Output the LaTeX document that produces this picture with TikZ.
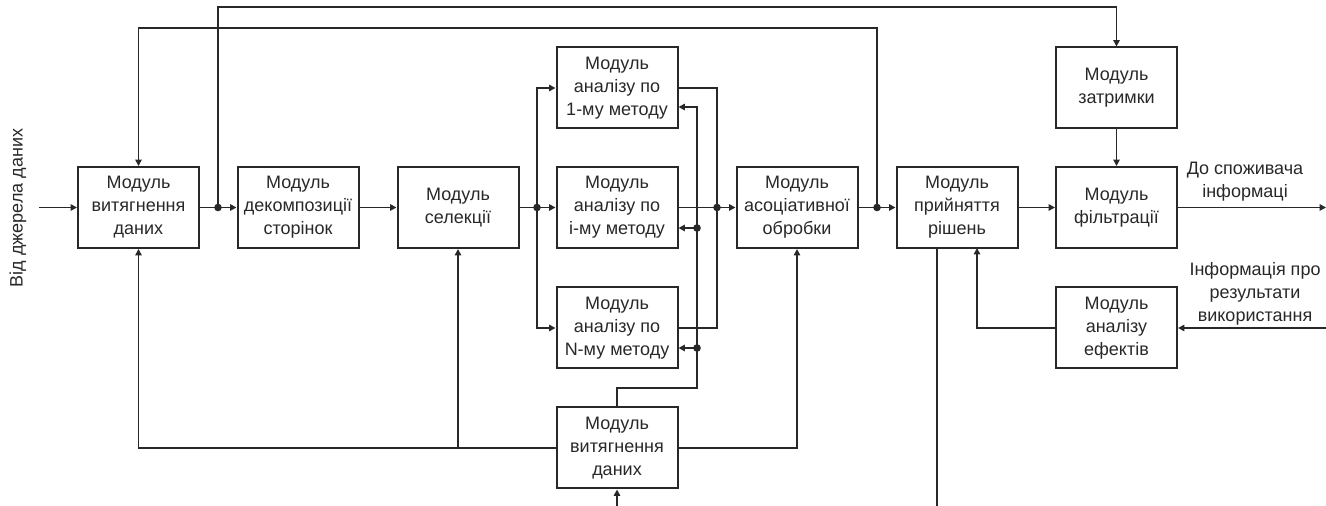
\documentclass[tikz,border=0pt]{standalone}
\usepackage{fontspec}
\setmainfont{Liberation Sans}
\usetikzlibrary{arrows.meta}
\definecolor{ink}{RGB}{40,40,40}
\begin{document}
\begin{tikzpicture}[x=0.5pt,y=-0.5pt,
  line width=0.9pt, draw=ink, text=ink,
  font=\fontsize{9}{11.5}\selectfont,
  modbox/.style={draw=ink, line width=1pt, minimum width=60.5pt, minimum height=40.5pt,
    align=center, inner sep=1pt},
  arr/.style={-{Triangle[length=3.2pt,width=3.2pt]}},
  jdot/.style={circle, fill=ink, inner sep=0pt, minimum size=3.8pt},
  lbl/.style={align=center, inner sep=0pt}]
\useasboundingbox (0,0) rectangle (1326,506);

% modules
\node[modbox] (b1) at (138.5,207.5) {Модуль\\витягнення\\даних};
\node[modbox] (b2) at (298,207.5) {Модуль\\декомпозиції\\сторінок};
\node[modbox] (b3) at (458,207.5) {Модуль\\селекції};
\node[modbox] (a1) at (617,88) {Модуль\\аналізу по\\1-му методу};
\node[modbox] (ai) at (617,207.5) {Модуль\\аналізу по\\і-му методу};
\node[modbox] (aN) at (617,328) {Модуль\\аналізу по\\N-му методу};
\node[modbox] (bx) at (617,448) {Модуль\\витягнення\\даних};
\node[modbox] (as) at (797,207.5) {Модуль\\асоціативної\\обробки};
\node[modbox] (dc) at (957,207.5) {Модуль\\прийняття\\рішень};
\node[modbox] (dl) at (1116.5,88) {Модуль\\затримки};
\node[modbox] (fl) at (1116.5,207.5) {Модуль\\фільтрації};
\node[modbox] (ef) at (1116.5,328) {Модуль\\аналізу\\ефектів};

% external labels
\node[lbl, rotate=90] (src) at (18,208) {Від джерела даних};
\node[lbl] (dst) at (1245,182) {До споживача\\інформаці};
\node[lbl] (fbk) at (1255,294) {Інформація про\\результати\\використання};

% free ends and junctions
\coordinate (in) at (39,207.5);
\coordinate (out) at (1326,207.5);
\coordinate (in2) at (1326,328);
\coordinate (bin) at (617,506);
\coordinate (dout) at (937,506);
\coordinate (j1) at (218,207.5);
\coordinate (j2) at (537,207.5);
\coordinate (j3) at (717,207.5);
\coordinate (j5) at (877,207.5);
\coordinate (t1) at (218,7);
\coordinate (t2) at (877,28);
\coordinate (fbx) at (697,107);
\coordinate (fbi) at (697,228);
\coordinate (fbN) at (697,348);
\coordinate (fb0) at (697,388);
\coordinate (dcin) at (977,248);

% main chain
\draw[arr] (in) -- (b1);
\draw[arr] (b1) -- (b2);
\draw[arr] (b2) -- (b3);
\draw[arr] (b3) -- (ai);
\draw[arr] (ai) -- (as);
\draw[arr] (as) -- (dc);
\draw[arr] (dc) -- (fl);
\draw[arr] (dl) -- (fl);
\draw[arr] (fl) -- (out);

% fan-out to the analysis modules
\draw[arr] (j2) |- (a1.west);
\draw[arr] (j2) |- (aN.west);
% fan-in from the analysis modules
\draw (a1.east) -| (j3) |- (aN.east);

% top feedback loops
\draw[arr] (j1) -- (t1) -| (dl.north);
\draw[arr] (j5) -- (t2) -| (b1.north);

% side extraction module feeding the analysers
\draw[arr] (bx.north) |- (fb0) -- (fbx) -- (fbx -| a1.east);
\draw[arr] (fbi) -- (fbi -| ai.east);
\draw[arr] (fbN) -- (fbN -| aN.east);
\draw[arr] (bx.west) -| (b1.south);
\draw[arr] (b3.south |- bx.west) -- (b3.south);
\draw[arr] (bx.east) -| (as.south);
\draw[arr] (bin) -- (bx.south);

% decision output and effects analysis
\draw (dc.south -| dout) -- (dout);
\draw[arr] (ef.west) -| (dcin);
\draw[arr] (in2) -- (ef.east);

% junction dots
\foreach \p in {j1,j2,j3,j5,fbi,fbN} \node[jdot] at (\p) {};
\end{tikzpicture}
\end{document}
